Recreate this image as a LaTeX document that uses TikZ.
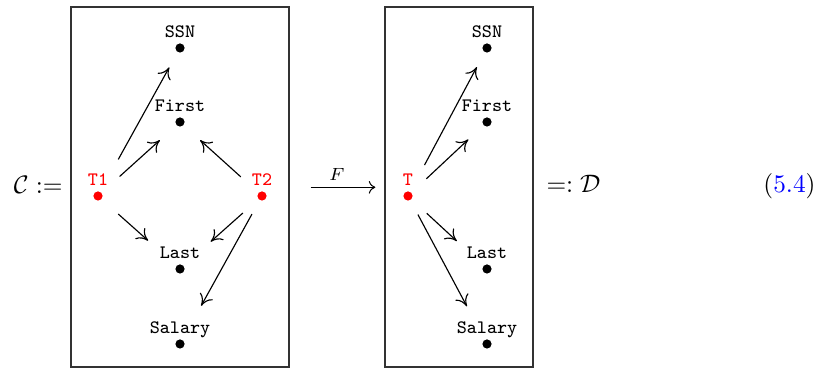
\documentclass[tikz,border=0pt]{standalone}
\usetikzlibrary{arrows.meta}
\newdimen\pxu \pxu=0.3953pt
\begin{document}
\begin{tikzpicture}[x=0.3953pt,y=-0.3953pt,
  dotnode/.style={circle,fill=black,inner sep=0pt,minimum size=9.2\pxu},
  reddot/.style={circle,fill=red,inner sep=0pt,minimum size=9.2\pxu},
  lbl/.style={anchor=base,inner sep=0pt,font=\fontsize{7.5}{9}\selectfont\ttfamily},
  rlbl/.style={lbl,text=red},
  frame/.style={draw=black!80,line width=0.5pt,inner sep=0pt},
  arr/.style={-{Computer Modern Rightarrow[length=4.4pt,width=5.8pt]},line width=0.45pt},
  mathtxt/.style={anchor=base,inner sep=0pt}]
\useasboundingbox (0,0) rectangle (817,368);
\fill[white] (0,0) rectangle (817,368);
% frames
\node[frame,minimum width=218\pxu,minimum height=360\pxu] (boxC) at (180,187) {};
\node[frame,minimum width=148\pxu,minimum height=360\pxu] (boxD) at (459,187) {};
% left diagram
\node[reddot] (t1) at (98,196) {};
\node[reddot] (t2) at (262,196) {};
\node[dotnode] (ssn) at (180,48) {};
\node[dotnode] (first) at (180,122) {};
\node[dotnode] (last) at (180,269) {};
\node[dotnode] (salary) at (180,344) {};
\node[rlbl] (t1l) at (98,185.5) {T1};
\node[rlbl] (t2l) at (262,185.5) {T2};
\node[lbl] (ssnl) at (180,37.5) {SSN};
\node[lbl] (firstl) at (180,111.5) {First};
\node[lbl] (lastl) at (180,258.5) {Last};
\node[lbl] (salaryl) at (180,333.5) {Salary};
\draw[arr,shorten <=36.7\pxu,shorten >=17\pxu] (t1) -- (ssn);
\draw[arr,shorten <=24\pxu,shorten >=22\pxu] (t1) -- (first);
\draw[arr,shorten <=23.4\pxu,shorten >=22\pxu] (t2) -- (first);
\draw[arr,shorten <=22\pxu,shorten >=37.5\pxu] (t1) -- (last);
\draw[arr,shorten <=20.5\pxu,shorten >=36\pxu] (t2) -- (last);
\draw[arr,shorten <=15.6\pxu,shorten >=38.6\pxu] (t2) -- (salary);
% right diagram
\node[reddot] (t) at (408,196) {};
\node[dotnode] (ssn2) at (487,48) {};
\node[dotnode] (first2) at (487,122) {};
\node[dotnode] (last2) at (487,269) {};
\node[dotnode] (salary2) at (487,344) {};
\node[rlbl] (tl) at (408,185.5) {T};
\node[lbl] (ssn2l) at (487,37.5) {SSN};
\node[lbl] (first2l) at (487,111.5) {First};
\node[lbl] (last2l) at (487,258.5) {Last};
\node[lbl] (salary2l) at (487,333.5) {Salary};
\draw[arr,shorten <=30\pxu,shorten >=16.5\pxu] (t) -- (ssn2);
\draw[arr,shorten <=20\pxu,shorten >=20.5\pxu] (t) -- (first2);
\draw[arr,shorten <=20.5\pxu,shorten >=36\pxu] (t) -- (last2);
\draw[arr,shorten <=16\pxu,shorten >=37.6\pxu] (t) -- (salary2);
% functor arrow
\draw[-{Computer Modern Rightarrow[length=2.6pt,width=5pt]},line width=0.4pt,shorten <=21\pxu,shorten >=9\pxu]
  (boxC.east |- 0,187.3) -- node[midway,above,inner sep=2.6pt,font=\scriptsize] (flbl) {$F$} (boxD.west |- 0,187.3);
% math text
\node[mathtxt,anchor=base east] (lhs) at (63,194) {$\mathcal{C} :=$};
\node[mathtxt,anchor=base west] (rhs) at (546,193) {$=: \mathcal{D}$};
\node[mathtxt,anchor=base east] (eqno) at (816,193) {(\textcolor{blue}{5.4})};
\end{tikzpicture}
\end{document}
